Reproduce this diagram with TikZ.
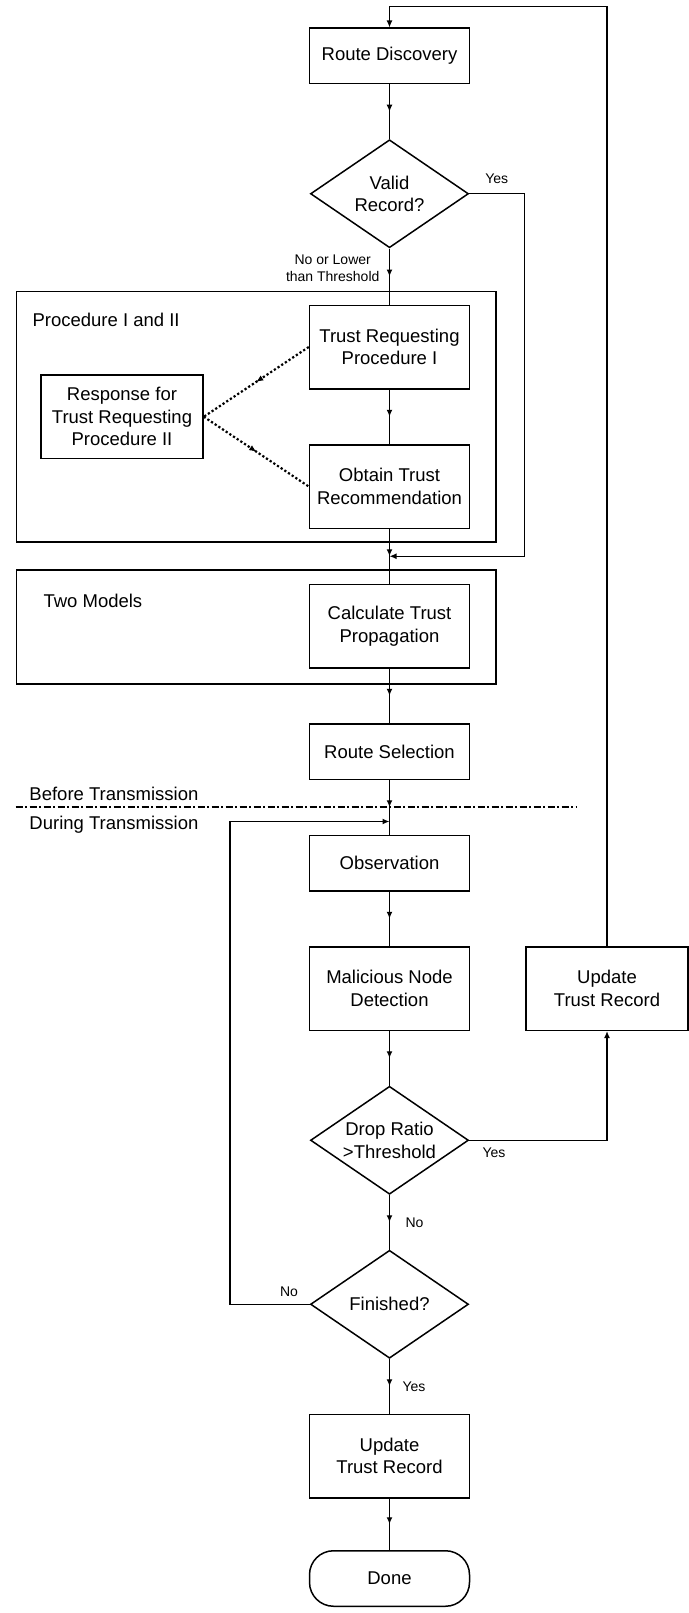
\documentclass[tikz,border=0pt]{standalone}
\usepackage{fontspec}
\setmainfont{Liberation Sans}
\usetikzlibrary{positioning,shapes.geometric,arrows.meta,decorations.markings,calc}

\newcommand{\boxfont}{\fontsize{18.5pt}{22.5pt}\selectfont}
\newcommand{\smallfont}{\fontsize{14pt}{17pt}\selectfont}

\tikzset{
  process/.style={draw, minimum width=160pt, minimum height=55.5pt, align=center, font=\boxfont},
  tallprocess/.style={process, minimum height=83.5pt},
  decision/.style={draw, diamond, aspect=1.46, inner sep=0pt, minimum width=158pt, minimum height=108pt, align=center, font=\boxfont},
  terminal/.style={process, rounded corners=24pt},
  frame/.style={draw},
  framelabel/.style={anchor=base west, inner sep=0pt, font=\boxfont},
  branch/.style={font=\smallfont},
  dotlink/.style={line width=2.2pt, dash pattern=on 2.2pt off 2.2pt},
  sepline/.style={dash pattern=on 7pt off 2.5pt on 2pt off 2.5pt},
  midarrow/.style={postaction={decorate}, decoration={markings,
      mark=at position 0.5 with {\arrow{Latex[length=7pt,width=6pt]}}}}
}

\begin{document}
\begin{tikzpicture}[x=1pt, y=1pt, node distance=54.5pt, line width=1.5pt,
                    >={Latex[length=7pt,width=6pt]}]
    \useasboundingbox (0,0) rectangle (688,-1613);

    % Nodes
    \node (route) [process] at (389.5,-56) {Route Discovery};
    \node (valid) [decision, below=of route] {Valid\\Record?};
    \node (trust1) [tallprocess, below=56pt of valid] {Trust Requesting\\Procedure I};
    \node (obtain) [tallprocess, below=of trust1] {Obtain Trust\\Recommendation};
    \path (trust1.west) -- (obtain.west) coordinate[midway] (pmid);
    \node (resp) [tallprocess, minimum width=162pt, left=105pt of pmid] {Response for\\Trust Requesting\\Procedure II};
    \node (calc) [tallprocess, below=of obtain] {Calculate Trust\\Propagation};
    \node (select) [process, below=of calc] {Route Selection};
    \node (obs) [process, below=of select] {Observation};
    \node (mal) [tallprocess, below=of obs] {Malicious Node\\Detection};
    \node (upd1) [tallprocess, minimum width=162pt, right=55pt of mal] {Update\\Trust Record};
    \node (drop) [decision, below=of mal] {Drop Ratio\\>Threshold};
    \node (fin) [decision, below=of drop] {Finished?};
    \node (upd2) [tallprocess, below=of fin] {Update\\Trust Record};
    \node (done) [terminal, below=51.5pt of upd2] {Done};

    \coordinate (yesin) at ($(obtain.south)!0.5!(calc.north)$);
    \coordinate (loopin) at ($(obs.north)+(0,13)$);
    \coordinate (sep) at ($(obs.north)+(0,27.5)$);

    % Frames
    \draw[frame] ($(trust1.north)+(-373.2,13)$) rectangle ($(obtain.south)+(106.5,-13)$);
    \node[framelabel] at ($(trust1.north)+(-357.7,-22.3)$) {Procedure I and II};
    \draw[frame] ($(calc.north)+(-373.2,13.7)$) rectangle ($(calc.south)+(106.5,-15.7)$);
    \node[framelabel] at ($(calc.north)+(-346.7,-23.6)$) {Two Models};

    % Transmission line
    \draw[sepline] (sep) ++(-374,0) -- ++(560.5,0);
    \node[framelabel] at ($(sep)+(-360.8,6.7)$) {Before Transmission};
    \node[framelabel] at ($(sep)+(-360.8,-22.6)$) {During Transmission};

    % Arrows
    \draw[midarrow] (route) -- (valid);
    \draw[midarrow] (valid) -- (trust1)
              node[pos=0.36,left=6pt,branch,align=center]
              {No or Lower\\than Threshold};
    \draw[midarrow] (trust1) -- (obtain);
    \draw[midarrow] (obtain) -- (calc);
    \draw[->] (valid.east) -- ++(55,0)
              node[midway,above=6pt,branch] {Yes} |- (yesin);
    \draw[dotlink, midarrow] (trust1.west) -- (resp.east);
    \draw[dotlink, midarrow] (resp.east) -- (obtain.west);
    \draw[midarrow] (calc) -- (select);
    \draw[midarrow] (select) -- (obs);
    \draw[midarrow] (obs) -- (mal);
    \draw[midarrow] (mal) -- (drop);
    \draw[midarrow] (drop) -- (fin)
              node[midway,right=12pt,branch] {No};
    \draw[->] (drop.east) -| (upd1.south)
              node[pos=0.09,below=4pt,branch] {Yes};
    \draw[->] (upd1.north) -- ($(upd1.north |- route.north)+(0,21)$) -| (route.north);
    \draw[->] (fin.west) -- ++(-80,0)
              node[pos=0.26,above=4pt,branch] {No} |- (loopin);
    \draw[midarrow] (fin) -- (upd2)
              node[midway,right=9pt,branch] {Yes};
    \draw[midarrow] (upd2) -- (done);

\end{tikzpicture}
\end{document}
